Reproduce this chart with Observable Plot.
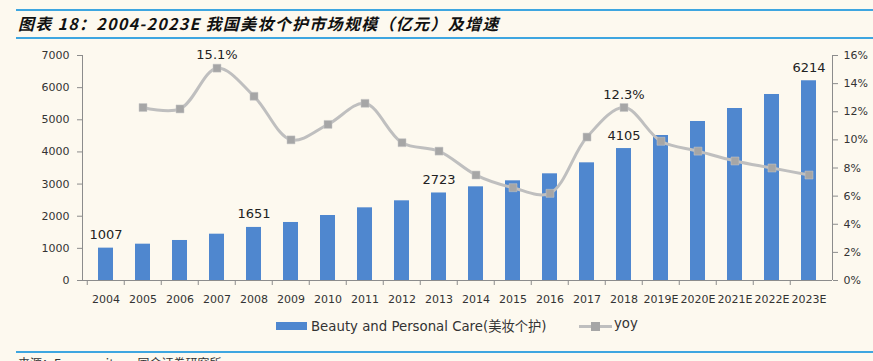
<!DOCTYPE html>
<html><head><meta charset="utf-8">
<script src="https://cdn.jsdelivr.net/npm/d3@7"></script>
<script src="https://cdn.jsdelivr.net/npm/@observablehq/plot@0.6"></script>
<style>
html,body{margin:0;padding:0;background:#fdf9ef;width:873px;height:361px;overflow:hidden;position:relative;font-family:"DejaVu Sans",sans-serif;}
.hline{position:absolute;left:16px;right:0;height:2px;background:#3ea6e0;}
#title{position:absolute;left:18px;top:11px;font:italic bold 16px "Noto Sans CJK SC","DejaVu Sans",sans-serif;letter-spacing:1.3px;color:#111;white-space:nowrap;}
#chart{position:absolute;left:0;top:40px;}
#legend{position:absolute;left:0;top:315px;width:873px;height:22px;font:13.3px "DejaVu Sans","Noto Sans CJK SC",sans-serif;color:#333;}
#source{position:absolute;left:18px;top:354px;font:12px "Noto Sans CJK SC",sans-serif;color:#333;white-space:nowrap;}
</style></head>
<body>
<div class="hline" style="top:9px"></div>
<div id="title">图表 18：2004-2023E 我国美妆个护市场规模（亿元）及增速</div>
<div class="hline" style="top:37px"></div>
<div id="chart"></div>
<div id="legend">
  <span style="position:absolute;left:276px;top:7px;width:31px;height:8px;background:#4f87cf"></span>
  <span style="position:absolute;left:311px;top:1px;white-space:nowrap">Beauty and Personal Care(美妆个护)</span>
  <span style="position:absolute;left:579px;top:10px;width:33px;height:3px;background:#bfbfbf"></span>
  <span style="position:absolute;left:591px;top:7px;width:9px;height:9px;background:#a6a6a6"></span>
  <span style="position:absolute;left:614px;top:1px;white-space:nowrap">yoy</span>
</div>
<div class="hline" style="top:351px"></div>
<div id="source">来源：Euromonitor，国金证券研究所</div>
<script>
const years = ["2004","2005","2006","2007","2008","2009","2010","2011","2012","2013","2014","2015","2016","2017","2018","2019E","2020E","2021E","2022E","2023E"];
const market = [1007,1130,1245,1441,1651,1805,2022,2261,2479,2723,2914,3101,3319,3661,4105,4511,4947,5351,5787,6214];
const yoyYears = years.slice(1);
const yoy = [12.3,12.2,15.1,13.1,10.0,11.1,12.6,9.8,9.2,7.5,6.6,6.2,10.2,12.3,9.9,9.2,8.5,8.0,7.5];
const barLabelYears = ["2004","2008","2013","2018","2023E"];
const yoyLabelYears = ["2007","2018"];
const leftTicks = [0,1000,2000,3000,4000,5000,6000,7000];
const rightTicks = [0,2,4,6,8,10,12,14,16];

const LMAX = 7000, RMAX = 16;
const toLeft = v => v * LMAX / RMAX;

const bars = years.map((y,i) => ({year:y, value:market[i]}));
const line = yoyYears.map((y,i) => ({year:y, yoy:yoy[i]}));
const barLabels = bars.filter(d => barLabelYears.includes(d.year));
const lineLabels = line.filter(d => yoyLabelYears.includes(d.year));

const W = 873, mL = 82, mR = 41;
const step = (W - mL - mR) / years.length;
const axisColor = "#8c8c8c";
const textColor = "#333";

// vertical axis lines on the left and right edges of the plot frame
function axisLines(index, scales, values, dims) {
  const g = d3.create("svg:g").attr("stroke", axisColor).attr("stroke-width", 1);
  const y0 = dims.marginTop, y1 = dims.height - dims.marginBottom;
  for (const x of [dims.marginLeft, dims.width - dims.marginRight]) {
    g.append("line").attr("x1", x + 0.5).attr("x2", x + 0.5).attr("y1", y0).attr("y2", y1);
  }
  return g.node();
}

const chart = Plot.plot({
  width: W, height: 270,
  marginLeft: mL, marginRight: mR, marginTop: 15, marginBottom: 30,
  style: {background: "transparent", fontFamily: "DejaVu Sans, sans-serif", fontSize: "11px", color: textColor},
  x: {type: "band", domain: years, paddingInner: 0.6, paddingOuter: 0.3, axis: null},
  y: {domain: [0, LMAX], axis: null},
  marks: [
    Plot.barY(bars, {x: "year", y: "value", fill: "#4f87cf"}),
    Plot.ruleY([0], {stroke: axisColor}),
    axisLines,
    Plot.axisY({anchor: "left", ticks: leftTicks, tickFormat: d => String(d), tickSize: 5, tickPadding: 8, stroke: axisColor, color: textColor, label: null, fontSize: 11}),
    Plot.axisY({anchor: "right", ticks: rightTicks.map(toLeft), tickFormat: d => Math.round(d * RMAX / LMAX) + "%", tickSize: 5, tickPadding: 6, stroke: axisColor, color: textColor, label: null, fontSize: 11}),
    Plot.axisX({tickSize: 5, tickFormat: () => "", dx: -step/2, stroke: axisColor, label: null}),
    Plot.axisX({tickSize: 0, tickPadding: 15, color: textColor, label: null, fontSize: 11}),
    Plot.line(line, {x: "year", y: d => toLeft(d.yoy), stroke: "#bfbfbf", strokeWidth: 3, curve: "catmull-rom"}),
    Plot.dot(line, {x: "year", y: d => toLeft(d.yoy), symbol: "square", r: 4.5, fill: "#a6a6a6", stroke: "#c8c8c8", strokeWidth: 0.5}),
    Plot.text(barLabels, {x: "year", y: "value", text: d => String(d.value), dy: -9, lineAnchor: "bottom", fontSize: 13, fill: "#222"}),
    Plot.text(lineLabels, {x: "year", y: d => toLeft(d.yoy), text: d => d.yoy.toFixed(1) + "%", dy: -9, lineAnchor: "bottom", fontSize: 13, fill: "#222"})
  ]
});
document.getElementById("chart").appendChild(chart);
</script>
</body></html>
